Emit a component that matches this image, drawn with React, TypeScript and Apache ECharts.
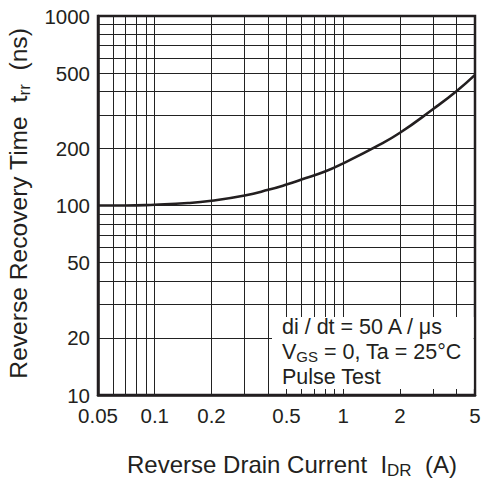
import { useEffect, useRef } from "react";
import * as echarts from "echarts";

// Reverse drain current (A) and reverse recovery time (ns)
const currentA = [0.05, 0.07, 0.1, 0.15, 0.2, 0.3, 0.4, 0.5, 0.6, 0.8, 1, 1.5, 2, 3, 4, 5];
const trrNs = [100, 100, 101, 103, 106, 113, 121, 129, 137, 151, 167, 205, 242, 323, 402, 489];

// Axis ranges, tick labels and log-grid values
const xRange = [0.05, 5];
const yRange = [10, 1000];
const xTickLabels = [0.05, 0.1, 0.2, 0.5, 1, 2, 5];
const yTickLabels = [10, 20, 50, 100, 200, 500, 1000];
const xGridValues = [0.06, 0.07, 0.08, 0.09, 0.1, 0.2, 0.3, 0.4, 0.5, 0.6, 0.7, 0.8, 0.9, 1, 2, 3, 4];
const yGridValues = [20, 30, 40, 50, 60, 70, 80, 90, 100, 200, 300, 400, 500, 600, 700, 800, 900];

// Texts
const xTitleMain = "Reverse Drain Current  I";
const xTitleSub = "DR";
const xTitleUnit = "  (A)";
const yTitleMain = "Reverse Recovery Time  t";
const yTitleSub = "rr";
const yTitleUnit = "  (ns)";
const noteLine1 = "di / dt = 50 A / μs";
const noteLine2a = "V";
const noteLine2Sub = "GS";
const noteLine2b = " = 0, Ta = 25°C";
const noteLine3 = "Pulse Test";

const INK = "#231f20";
const GRID_INK = "#222222";
const FONT = "'Liberation Sans', Arial, Helvetica, sans-serif";

const lg = (v: number) => Math.log10(v);
const fmt = (v: number) => String(parseFloat(Math.pow(10, v).toPrecision(2)));

export default function App() {
  const ref = useRef<HTMLDivElement>(null);

  useEffect(() => {
    if (!ref.current) return;
    const chart = echarts.init(ref.current, undefined, { renderer: "svg" });
    const gridLeft = 98;
    const gridTop = 16;
    const gridW = 377;
    const gridH = 379;

    const xTitleRich = {
      n: { fontSize: 24, lineHeight: 30, color: INK, fontFamily: FONT },
      s: { fontSize: 17, lineHeight: 17, verticalAlign: "bottom", color: INK, fontFamily: FONT },
    };
    const yTitleRich = {
      n: { fontSize: 24.6, lineHeight: 30, color: INK, fontFamily: FONT },
      s: { fontSize: 17, lineHeight: 17, verticalAlign: "bottom", color: INK, fontFamily: FONT },
    };

    chart.setOption({
      animation: false,
      backgroundColor: "#ffffff",
      grid: {
        left: gridLeft,
        top: gridTop,
        width: gridW,
        height: gridH,
        show: true,
        borderColor: INK,
        borderWidth: 2.5,
        backgroundColor: "transparent",
        containLabel: false,
        outerBoundsMode: "none",
      },
      xAxis: {
        type: "value",
        min: lg(xRange[0]),
        max: lg(xRange[1]),
        name: `{n|${xTitleMain}}{s|${xTitleSub}}{n|${xTitleUnit}}`,
        nameLocation: "middle",
        nameGap: 54,
        nameTextStyle: { rich: xTitleRich, padding: [0, 0, 0, 11] },
        axisLine: { show: true, onZero: false, lineStyle: { color: INK, width: 2.5 } },
        axisTick: {
          show: true,
          inside: true,
          length: gridH,
          customValues: xGridValues.map(lg),
          lineStyle: { color: GRID_INK, width: 1 },
        },
        splitLine: { show: false },
        axisLabel: {
          customValues: xTickLabels.map(lg),
          formatter: fmt,
          fontSize: 20.5,
          color: INK,
          fontFamily: FONT,
          margin: 10,
        },
      },
      yAxis: {
        type: "value",
        min: lg(yRange[0]),
        max: lg(yRange[1]),
        name: `{n|${yTitleMain}}{s|${yTitleSub}}{n|${yTitleUnit}}`,
        nameLocation: "middle",
        nameGap: 65,
        nameTextStyle: { rich: yTitleRich, padding: [0, 0, 0, 4] },
        axisLine: { show: true, onZero: false, lineStyle: { color: INK, width: 2.5 } },
        axisTick: {
          show: true,
          inside: true,
          length: gridW,
          customValues: yGridValues.map(lg),
          lineStyle: { color: GRID_INK, width: 1 },
        },
        splitLine: { show: false },
        axisLabel: {
          customValues: yTickLabels.map(lg),
          formatter: fmt,
          fontSize: 20.5,
          color: INK,
          fontFamily: FONT,
          margin: 8,
        },
      },
      series: [
        {
          type: "line",
          data: currentA.map((x, i) => [lg(x), lg(trrNs[i])]),
          smooth: 0.5,
          showSymbol: false,
          symbol: "none",
          lineStyle: { color: INK, width: 2.6 },
          z: 5,
        },
      ],
      graphic: [
        {
          type: "rect",
          z: 10,
          shape: { x: 272, y: 317, width: 201.5, height: 72 },
          style: { fill: "#ffffff" },
          silent: true,
        },
        {
          type: "text",
          z: 11,
          x: 282,
          y: 314,
          silent: true,
          style: {
            text: `{a|${noteLine1}}\n{a|${noteLine2a}}{s|${noteLine2Sub}}{a|${noteLine2b}}\n{a|${noteLine3}}`,
            rich: {
              a: { fontSize: 21.5, lineHeight: 25, fontFamily: FONT, fill: INK },
              s: { fontSize: 15, lineHeight: 11, verticalAlign: "bottom", fontFamily: FONT, fill: INK },
            },
            fill: INK,
          },
        },
      ],
    });

    return () => chart.dispose();
  }, []);

  return (
    <div
      ref={ref}
      style={{ position: "fixed", left: 0, top: 0, width: 483, height: 484, background: "#fff" }}
    />
  );
}
